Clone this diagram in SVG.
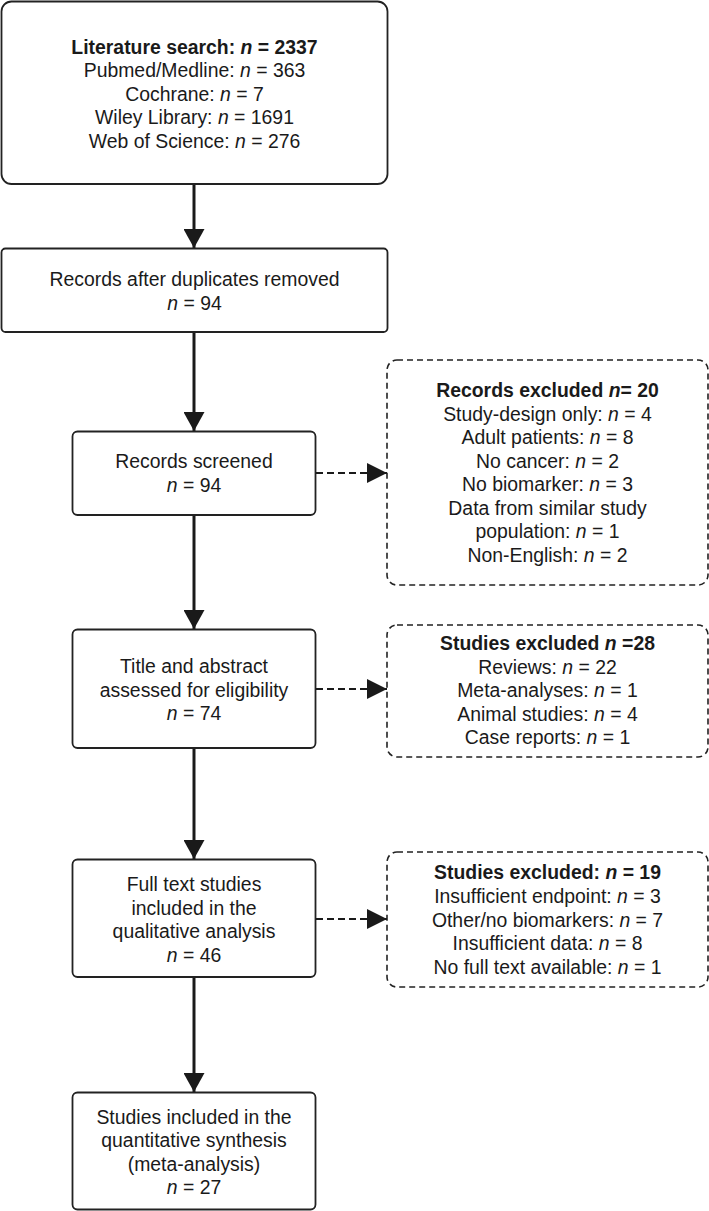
<svg xmlns="http://www.w3.org/2000/svg" width="709" height="1211" viewBox="0 0 709 1211">
<style>
.box{fill:#fff;stroke:#222;stroke-width:1.8}
.dbox{fill:#fff;stroke:#222;stroke-width:1.6;stroke-dasharray:6 4}
text{font-family:"Liberation Sans",Arial,sans-serif;font-size:19.4px;fill:#1a1a1a;text-anchor:middle}
.b{font-weight:bold}
.i{font-style:italic}
.solid{stroke:#1a1a1a;stroke-width:3;fill:none}
.dash{stroke:#1a1a1a;stroke-width:2;fill:none;stroke-dasharray:7 4}
</style>
<defs>
<marker id="ah" markerUnits="userSpaceOnUse" viewBox="0 0 19 21" refX="19" refY="10.5" markerWidth="19" markerHeight="21" orient="auto">
<path d="M0,0 L19,10.5 L0,21 Z" fill="#1a1a1a"/>
</marker>
<marker id="ahd" markerUnits="userSpaceOnUse" viewBox="0 0 20 20" refX="20" refY="10" markerWidth="20" markerHeight="20" orient="auto">
<path d="M0,0 L20,10 L0,20 Z" fill="#1a1a1a"/>
</marker>
</defs>
<rect width="709" height="1211" fill="#fff"/>
<g id="connectors">
<path class="solid" d="M194,184 V248" marker-end="url(#ah)"/>
<path class="solid" d="M194,332 V431" marker-end="url(#ah)"/>
<path class="solid" d="M194,515 V629" marker-end="url(#ah)"/>
<path class="solid" d="M194,748 V859" marker-end="url(#ah)"/>
<path class="solid" d="M194,977 V1092" marker-end="url(#ah)"/>
<path class="dash" d="M316,473 H387" marker-end="url(#ahd)"/>
<path class="dash" d="M316,689 H387" marker-end="url(#ahd)"/>
<path class="dash" d="M316,919 H387" marker-end="url(#ahd)"/>
</g>
<g id="search">
<rect class="box" x="1.5" y="1.5" width="386" height="182.5" rx="10"/>
<text x="194.5" y="53.5" class="b">Literature search: <tspan class="i">n</tspan> = 2337</text>
<text x="194.5" y="77"><tspan>Pubmed/Medline: </tspan><tspan class="i">n</tspan> = 363</text>
<text x="194.5" y="100.5">Cochrane: <tspan class="i">n</tspan> = 7</text>
<text x="194.5" y="124">Wiley Library: <tspan class="i">n</tspan> = 1691</text>
<text x="194.5" y="147.5">Web of Science: <tspan class="i">n</tspan> = 276</text>
</g>
<g id="duplicates">
<rect class="box" x="1.5" y="248.5" width="386" height="83.5" rx="4"/>
<text x="194.5" y="286">Records after duplicates removed</text>
<text x="194.5" y="309.5"><tspan class="i">n</tspan> = 94</text>
</g>
<g id="screened">
<rect class="box" x="72.5" y="431.5" width="243" height="83.5" rx="5"/>
<text x="194" y="468">Records screened</text>
<text x="194" y="492"><tspan class="i">n</tspan> = 94</text>
</g>
<g id="title-abstract">
<rect class="box" x="72.5" y="629.5" width="243" height="118.5" rx="5"/>
<text x="194" y="673">Title and abstract</text>
<text x="194" y="697">assessed for eligibility</text>
<text x="194" y="720"><tspan class="i">n</tspan> = 74</text>
</g>
<g id="fulltext">
<rect class="box" x="72.5" y="859.5" width="243" height="117.5" rx="5"/>
<text x="194" y="891">Full text studies</text>
<text x="194" y="914.5">included in the</text>
<text x="194" y="938">qualitative analysis</text>
<text x="194" y="961.5"><tspan class="i">n</tspan> = 46</text>
</g>
<g id="quantitative">
<rect class="box" x="72.5" y="1092.5" width="243" height="117" rx="5"/>
<text x="194" y="1123.5">Studies included in the</text>
<text x="194" y="1147">quantitative synthesis</text>
<text x="194" y="1170.5">(meta-analysis)</text>
<text x="194" y="1194"><tspan class="i">n</tspan> = 27</text>
</g>
<g id="records-excluded">
<rect class="dbox" x="387" y="360" width="321" height="225" rx="10"/>
<text x="547.5" y="397" class="b">Records excluded <tspan class="i">n</tspan>= 20</text>
<text x="547.5" y="420.5">Study-design only: <tspan class="i">n</tspan> = 4</text>
<text x="547.5" y="444">Adult patients: <tspan class="i">n</tspan> = 8</text>
<text x="547.5" y="467.5">No cancer: <tspan class="i">n</tspan> = 2</text>
<text x="547.5" y="491">No biomarker: <tspan class="i">n</tspan> = 3</text>
<text x="547.5" y="514.5">Data from similar study</text>
<text x="547.5" y="538">population: <tspan class="i">n</tspan> = 1</text>
<text x="547.5" y="561.5">Non-English: <tspan class="i">n</tspan> = 2</text>
</g>
<g id="studies-excluded-28">
<rect class="dbox" x="387" y="625" width="321" height="132" rx="10"/>
<text x="547.5" y="650" class="b">Studies excluded <tspan class="i">n</tspan> =28</text>
<text x="547.5" y="673.5">Reviews: <tspan class="i">n</tspan> = 22</text>
<text x="547.5" y="697">Meta-analyses: <tspan class="i">n</tspan> = 1</text>
<text x="547.5" y="720.5">Animal studies: <tspan class="i">n</tspan> = 4</text>
<text x="547.5" y="744">Case reports: <tspan class="i">n</tspan> = 1</text>
</g>
<g id="studies-excluded-19">
<rect class="dbox" x="387" y="852" width="321" height="135" rx="10"/>
<text x="547.5" y="879" class="b">Studies excluded: <tspan class="i">n</tspan> = 19</text>
<text x="547.5" y="903">Insufficient endpoint: <tspan class="i">n</tspan> = 3</text>
<text x="547.5" y="926.5">Other/no biomarkers: <tspan class="i">n</tspan> = 7</text>
<text x="547.5" y="950">Insufficient data: <tspan class="i">n</tspan> = 8</text>
<text x="547.5" y="973.5">No full text available: <tspan class="i">n</tspan> = 1</text>
</g>
</svg>
